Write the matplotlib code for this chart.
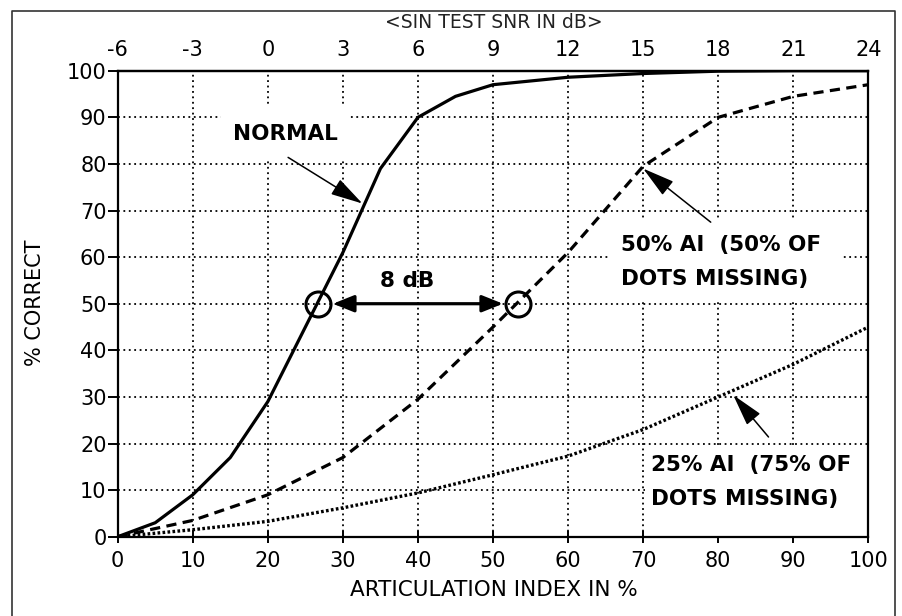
import matplotlib
matplotlib.use("Agg")
import matplotlib.pyplot as plt
from matplotlib.patches import Rectangle
from matplotlib.lines import Line2D

plt.rcParams["axes.unicode_minus"] = False

# articulation index (%) sample points
ai_fine = [0, 5, 10, 15, 20, 25, 30, 35, 40, 45, 50, 60, 70, 80, 90, 100]
ai_coarse = [0, 10, 20, 30, 40, 50, 60, 70, 80, 90, 100]

# % correct for each condition
normal = [0, 3, 9, 17, 29, 45, 61, 79, 90, 94.5, 97, 98.6, 99.4, 99.9, 100, 100]
half_dots = [0, 3.5, 9, 17, 29.5, 45, 61, 79.5, 90, 94.5, 97]
quarter_dots = [0, 1.5, 3.3, 6.2, 9.4, 13.3, 17.3, 23, 30, 37, 45]

# 50% points on the SIN test scale (dB)
circle_snr_db = [2, 10]
circle_pct = [50, 50]

ai_ticks = list(range(0, 101, 10))
pct_ticks = list(range(0, 101, 10))
snr_ticks = list(range(-6, 25, 3))


def ai_to_db(a):
    return -6 + 0.3 * a


def db_to_ai(d):
    return (d + 6) / 0.3


fig = plt.figure(figsize=(9.02, 6.16), dpi=100)
ax = fig.add_axes([0.1305, 0.1287, 0.8322, 0.7565])

ax.set_xlim(0, 100)
ax.set_ylim(0, 100)
ax.set_xticks(ai_ticks)
ax.set_yticks(pct_ticks)
ax.grid(True, color="black", linestyle=(0, (1.0, 2.0)), linewidth=1.3)

ax.plot(ai_fine, normal, color="black", lw=2.3, solid_capstyle="round", zorder=3)
ax.plot(ai_coarse, half_dots, color="black", lw=2.3, linestyle=(0, (3.2, 2.0)), zorder=3)
ax.plot(ai_coarse, quarter_dots, color="black", lw=2.4, linestyle=(0, (0.8, 0.7)), zorder=3)

# white boxes behind the labels so the grid stops there
for x0, y0, w, h in [(13.7, 80.7, 17.3, 11.8), (65.4, 51.0, 31.2, 16.9), (70.3, 0.0, 29.7, 19.5)]:
    ax.add_patch(Rectangle((x0, y0), w, h, facecolor="white", edgecolor="none", zorder=1.8))

lab = dict(fontsize=15.5, fontweight="bold", color="black", va="center", zorder=4)
ax.text(22.3, 86.5, "NORMAL", ha="center", **lab)
ax.text(67.0, 62.7, "50% AI  (50% OF", ha="left", **lab)
ax.text(67.0, 55.4, "DOTS MISSING)", ha="left", **lab)
ax.text(71.0, 15.4, "25% AI  (75% OF", ha="left", **lab)
ax.text(71.0, 8.1, "DOTS MISSING)", ha="left", **lab)

pointer = dict(arrowstyle="-|>,head_length=1.0,head_width=0.27", color="black",
               lw=1.1, shrinkA=0, shrinkB=0, mutation_scale=20)
ax.annotate("", xy=(32.6, 71.5), xytext=(22.7, 81.4), arrowprops=pointer, zorder=4)
ax.annotate("", xy=(70.0, 79.0), xytext=(79.0, 67.5), arrowprops=pointer, zorder=4)
ax.annotate("", xy=(82.0, 30.4), xytext=(86.7, 21.4), arrowprops=pointer, zorder=4)

# 50% points and the SNR gap between them
circle_ai = [db_to_ai(d) for d in circle_snr_db]
ax.plot(circle_ai, circle_pct, linestyle="none", marker="o", markersize=18,
        markerfacecolor="none", markeredgecolor="black", markeredgewidth=2.2, zorder=4)
gap = dict(arrowstyle="<|-|>,head_length=0.8,head_width=0.32", color="black",
           lw=2.3, shrinkA=0, shrinkB=0, mutation_scale=16)
ax.annotate("", xy=(circle_ai[1] - 2.0, circle_pct[1]), xytext=(circle_ai[0] + 2.0, circle_pct[0]),
            arrowprops=gap, zorder=4)
gap_db = circle_snr_db[1] - circle_snr_db[0]
ax.text(sum(circle_ai) / 2 - 1.5, 54.9, f"{gap_db:.0f} dB", ha="center", **lab)

for s in ax.spines.values():
    s.set_linewidth(1.6)
ax.tick_params(axis="y", direction="out", length=7, width=1.4, pad=1, labelsize=15)
ax.tick_params(axis="x", direction="inout", length=8, width=1.4, pad=6, labelsize=15)

top = ax.secondary_xaxis("top", functions=(ai_to_db, db_to_ai))
top.set_xticks(snr_ticks)
top.tick_params(length=0, pad=8, labelsize=15)
top.spines["top"].set_linewidth(1.6)

fig.text(0.548, 0.964, "<SIN TEST SNR IN dB>", ha="center", va="center", fontsize=13.5, color="#222222")
fig.text(0.039, 0.508, "% CORRECT", rotation=90, ha="center", va="center", fontsize=15)
fig.text(0.547, 0.042, "ARTICULATION INDEX IN %", ha="center", va="center", fontsize=15.5)

# outer frame
fx0, fx1, fy1 = 12 / 902, 895 / 902, 1 - 11 / 616
fig.add_artist(Line2D([fx0, fx0, fx1, fx1], [0, fy1, fy1, 0], color="#333333", lw=1.2))

fig.savefig("out.png", dpi=100)
